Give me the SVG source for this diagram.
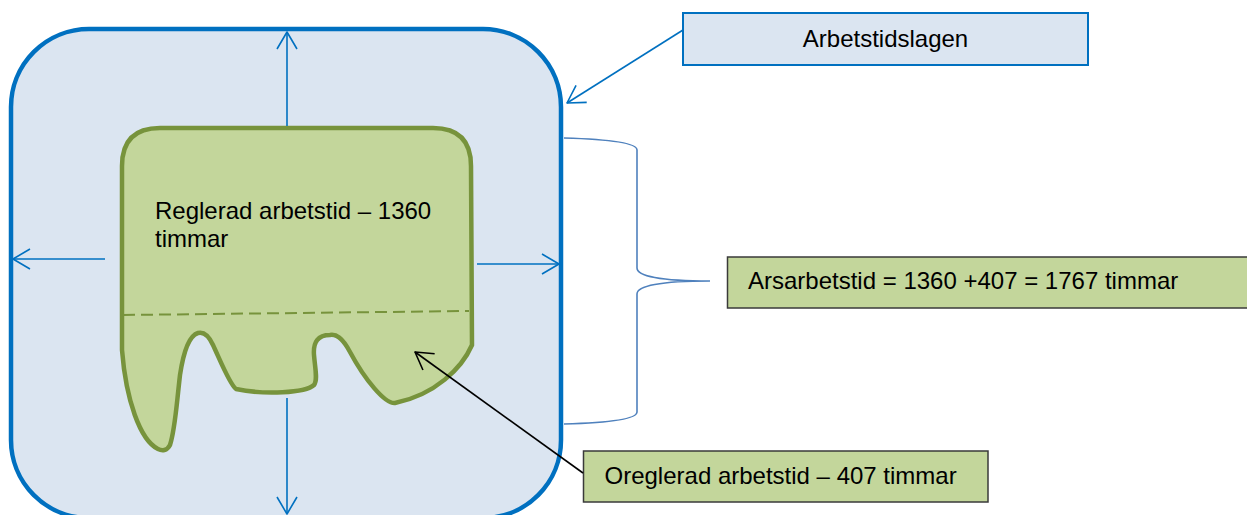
<svg xmlns="http://www.w3.org/2000/svg" width="1247" height="515" viewBox="0 0 1247 515">
<style>
text{font-family:"Liberation Sans",Arial,sans-serif;font-size:24px;fill:#000}
.blue{stroke:#0070C0;stroke-width:1.6;fill:none}
.blk{stroke:#000;stroke-width:1.6;fill:none}
.brace{stroke:#4F81BD;stroke-width:1.6;fill:none}
.gbox{fill:#C3D69B;stroke:#3A3A3A;stroke-width:1.5}
</style>
<defs>
<marker id="ab" markerUnits="userSpaceOnUse" markerWidth="24" markerHeight="24" refX="17" refY="10" orient="auto" overflow="visible">
<path d="M0,0 L17,10 L0,20" fill="none" stroke="#0070C0" stroke-width="1.6" stroke-linejoin="round"/>
</marker>
<marker id="ak" markerUnits="userSpaceOnUse" markerWidth="24" markerHeight="24" refX="17" refY="10" orient="auto" overflow="visible">
<path d="M0,0 L17,10 L0,20" fill="none" stroke="#000" stroke-width="1.6" stroke-linejoin="round"/>
</marker>
</defs>
<g id="arbetstidslagen-area">
<rect x="11" y="29" width="550" height="489" rx="78" ry="78" fill="#DBE5F1" stroke="#0070C0" stroke-width="4.5"/>
</g>
<g id="arbetstid-shape">
<path d="M122,350 L122,166 Q122,128 160,128 L433,128 Q471,128 471,166 L472,345 C462,368 435,395 395,403 C385,404 365,380 350,352 C342,337 336,334 330,335 C318,335 313,342 314,355 C315,368 318,380 314,385 C305,393 265,395 236,389 C230,385 220,360 213,345 C208,334 202,332 198,333 C188,336 183,355 180,375 C176,410 175,430 170,445 C167,451 162,451 158,449 C140,440 126,400 122,350 Z" fill="#C3D69B" stroke="#77933C" stroke-width="4.5" stroke-linejoin="round"/>
<line x1="123" y1="315" x2="469" y2="311" stroke="#77933C" stroke-width="2" stroke-dasharray="12 6"/>
<text x="155" y="219">Reglerad arbetstid – 1360</text>
<text x="155" y="247">timmar</text>
</g>
<g id="label-lagen">
<rect x="683" y="13" width="405" height="52" fill="#DBE5F1" stroke="#0070C0" stroke-width="2"/>
<text x="885.5" y="47" text-anchor="middle">Arbetstidslagen</text>
</g>
<g id="label-arsarbetstid">
<rect x="727.5" y="257" width="530" height="51" class="gbox"/>
<text x="748" y="289">Arsarbetstid = 1360 +407 = 1767 timmar</text>
</g>
<g id="label-oreglerad">
<rect x="583.5" y="451" width="404.5" height="51" class="gbox"/>
<text x="604.5" y="484">Oreglerad arbetstid – 407 timmar</text>
</g>
<g id="connectors">
<line x1="287" y1="126" x2="287" y2="32" class="blue" marker-end="url(#ab)"/>
<line x1="287" y1="398" x2="287" y2="514" class="blue" marker-end="url(#ab)"/>
<line x1="105" y1="259" x2="13" y2="259" class="blue" marker-end="url(#ab)"/>
<line x1="477" y1="264" x2="559" y2="264" class="blue" marker-end="url(#ab)"/>
<line x1="683" y1="30" x2="567" y2="103" class="blue" marker-end="url(#ab)"/>
<line x1="583" y1="473" x2="415" y2="352" class="blk" marker-end="url(#ak)"/>
<path d="M564,138 C600,139 637,142 637,150 L637,268 C637,276 660,281 710,281 C660,281 637,286 637,294 L637,412 C637,420 600,423 564,424" class="brace"/>
</g>
</svg>
